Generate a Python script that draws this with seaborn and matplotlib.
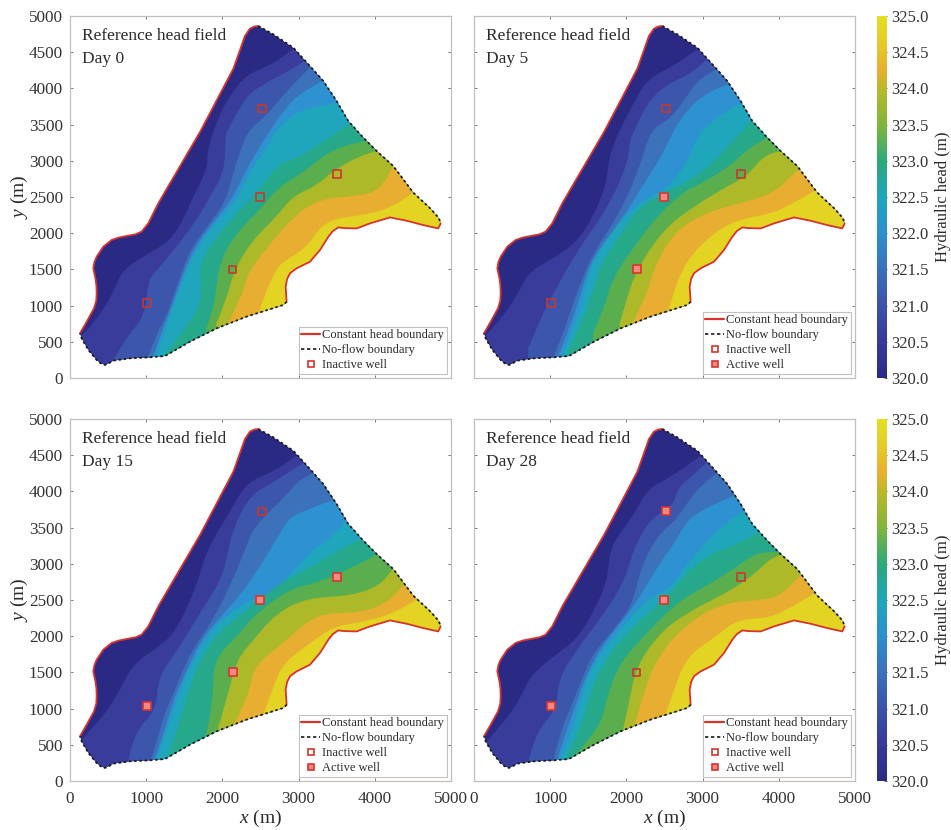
import matplotlib
matplotlib.use("Agg")
import matplotlib.pyplot as plt
import seaborn as sns
import pandas as pd
from matplotlib.cm import ScalarMappable
from matplotlib.colors import LinearSegmentedColormap, Normalize
from matplotlib.lines import Line2D
from matplotlib.patches import Polygon, PathPatch
from matplotlib.path import Path

# ---------- data (metres) ----------
const_head_nw = [(131,617),(219,778),(315,963),(345,1070),(350,1170),(347,1270),(335,1370),(306,1515),(320,1600),(350,1676),
                 (437,1814),(547,1907),(640,1940),(744,1962),(860,1985),(940,2022),(1028,2137),(1159,2413),(1708,3401),
                 (2146,4277),(2296,4724),(2361,4825),(2420,4855),(2471,4862)]
no_flow_ne = [(2471,4862),(2668,4747),(2930,4563),(3149,4309),(3324,4102),(3499,3826),(3652,3550),(3849,3320),
              (4024,3135),(4242,2928),(4505,2560),(4729,2341),(4840,2210),(4864,2135)]
const_head_se = [(4864,2135),(4833,2066),(4636,2112),(4418,2172),(4199,2218),(3936,2135),(3762,2066),(3600,2070),(3521,2080),
                 (3450,2030),(3390,1951),(3280,1767),(3149,1606),(2974,1514),(2890,1450),(2850,1370),(2830,1261),(2843,1053)]
no_flow_sw = [(2843,1053),(2800,1009),(2318,848),(1925,686),(1575,502),(1247,304),(1050,286),(787,272),(569,240),
              (510,205),(459,180),(400,205),(350,249),(241,387),(153,548),(131,617)]

well_names = ["W1", "W2", "W3", "W4", "W5"]
well_x = [1010, 2520, 2495, 3505, 2135]
well_y = [1040, 3725, 2500, 2820, 1500]
days = [0, 5, 15, 28]
active_wells = {0: [], 5: ["W3", "W5"], 15: ["W1", "W3", "W4", "W5"], 28: ["W1", "W2", "W3"]}

head_ticks = [320.0, 320.5, 321.0, 321.5, 322.0, 322.5, 323.0, 323.5, 324.0, 324.5, 325.0]
colorbar_values = [320.0, 320.5, 321.0, 321.5, 322.0, 322.5, 323.0, 323.5, 324.0, 324.25, 324.6, 325.0]
colorbar_colors = ["#2a2a85", "#37399b", "#3b52aa", "#3b70ba", "#2c8fcf", "#1fa5bb",
                   "#2ca87a", "#7fb63c", "#bab82a", "#e8ae32", "#e6c82a", "#e4e022"]
band_colors = ["#2a2a85", "#3a3c9c", "#3b56ab", "#3c72ba", "#2e92d2", "#1fa6bc",
               "#25a98a", "#5aae4e", "#aeb92a", "#e8ae32", "#e3d322"]

iso_day0 = [
 [(153,571),(350,802),(569,1170),(678,1469),(919,1653),(1312,1883),(1487,2183),(1597,2459),(1800,2870),(1810,3190),(1970,3650),(2099,3895),(2318,4194),(2624,4309),(2930,4540)],
 [(569,240),(744,571),(984,848),(1028,1354),(1137,1480),(1312,1699),(1640,2137),(1815,2459),(2040,2870),(2030,3330),(2099,3481),(2318,3895),(2536,4056),(2799,4194),(3083,4378)],
 [(1028,286),(1137,617),(1268,848),(1356,1124),(1465,1446),(1575,1768),(1837,2137),(2056,2459),(2143,2836),(2274,3250),(2361,3435),(2580,3619),(2843,3964),(3149,4286)],
 [(1090,285),(1200,620),(1290,860),(1400,1170),(1500,1470),(1630,1790),(1880,2150),(2120,2450),(2318,2882),(2580,3343),(2755,3619),(2974,3895),(3315,4102)],
 [(1128,295),(1247,617),(1312,871),(1443,1216),(1531,1492),(1684,1814),(1925,2160),(2187,2459),(2274,2652),(2405,2928),(2580,3158),(2711,3435),(3018,3711),(3520,3803)],
 [(1247,318),(1487,641),(1706,986),(1728,1308),(1706,1584),(1925,1953),(2231,2321),(2536,2652),(2755,2974),(2974,3020),(3368,3296),(3674,3504)],
 [(1793,686),(1881,940),(1925,1262),(1968,1584),(2143,1953),(2493,2321),(2755,2652),(3061,2836),(3324,3066),(3586,3204),(3892,3273)],
 [(1925,756),(2056,1078),(2143,1446),(2362,1860),(2712,2229),(2930,2514),(3236,2652),(3455,2859),(3761,3043),(4024,3135)],
 [(2078,756),(2274,1170),(2318,1399),(2493,1675),(2887,2182),(3237,2458),(3674,2504),(3980,2550),(4155,2734),(4242,2928)],
 [(2471,869),(2581,1215),(2668,1400),(2756,1583),(3105,1790),(3346,2182),(3893,2250),(4243,2366),(4505,2560)],
]
iso_day5 = [
 [(157,590),(385,843),(581,1166),(712,1442),(909,1580),(1258,1788),(1499,2087),(1739,2640),(1783,3147),(2099,3803),(2274,4125),(2624,4309),(2930,4540)],
 [(712,405),(865,797),(1040,1166),(1390,1811),(1739,2318),(2023,2963),(2045,3286),(2099,3389),(2274,3803),(2536,4056),(2799,4171),(3039,4378)],
 [(1040,267),(1171,613),(1302,1028),(1433,1396),(1564,1719),(1914,2272),(2186,2928),(2318,3435),(2580,3573),(2799,3895),(2930,4102),(3149,4240)],
 [(1100,280),(1240,640),(1370,1050),(1480,1440),(1610,1740),(1950,2200),(2186,2606),(2493,3112),(2624,3435),(2843,3757),(3105,3964),(3346,4056)],
 [(1149,290),(1302,659),(1433,1074),(1520,1488),(1652,1765),(2001,2272),(2300,2500),(2536,2606),(2799,2974),(2930,3343),(3149,3573),(3520,3803)],
 [(1215,313),(1390,705),(1543,1120),(1652,1534),(1870,1903),(2176,2364),(2500,2560),(2799,2698),(3149,2974),(3411,3297),(3630,3527)],
 [(1564,613),(1717,981),(1827,1396),(2132,1857),(2438,2272),(2788,2600),(2930,2652),(3368,2928),(3586,3158),(3849,3320)],
 [(1914,751),(2001,1074),(2132,1488),(2482,2041),(2875,2364),(3411,2698),(3586,2790),(3805,3066),(4024,3135)],
 [(2089,774),(2264,1120),(2395,1627),(2701,2087),(3138,2318),(3662,2456),(3936,2560),(4242,2859)],
 [(2548,912),(2613,1166),(2788,1627),(3138,1995),(3444,2180),(3924,2272),(4186,2410),(4449,2571)],
]
iso_day15 = [
 [(153,567),(394,843),(591,1120),(832,1627),(1182,1857),(1401,2087),(1664,2686),(1795,3193),(2099,3711),(2318,4125),(2668,4263),(2974,4494)],
 [(766,267),(832,659),(1138,981),(1160,1442),(1445,1857),(1707,2318),(2000,2800),(2080,3200),(2150,3500),(2361,3941),(2668,4125),(3083,4401)],
 [(1051,267),(1138,521),(1226,889),(1401,1304),(1576,1765),(1883,2226),(2150,2800),(2318,3250),(2427,3527),(2843,3941),(2974,4125),(3171,4240)],
 [(1100,280),(1230,620),(1340,1060),(1500,1450),(1720,1950),(2010,2300),(2230,2560),(2449,2882),(2689,3296),(2886,3642),(3061,3720),(3433,3872)],
 [(1138,290),(1270,705),(1445,1212),(1576,1580),(1883,2133),(2320,2480),(2624,2583),(2886,2836),(3149,3158),(3411,3343),(3608,3573)],
 [(1292,359),(1401,659),(1532,1166),(1707,1673),(1970,2087),(2452,2450),(2714,2700),(2974,2836),(3411,3112),(3717,3296),(3827,3320)],
 [(1795,659),(1883,1120),(1883,1673),(2233,2041),(2452,2318),(2886,2652),(3280,2744),(3761,2974),(4002,3112)],
 [(1926,659),(2058,1120),(2189,1673),(2408,1949),(2714,2318),(3108,2525),(3717,2560),(4067,2698),(4242,2928)],
 [(2145,751),(2364,1212),(2408,1580),(2802,1903),(3240,2318),(3809,2318),(4159,2456),(4373,2698)],
 [(2539,912),(2671,1304),(2802,1627),(3152,1903),(3459,2133),(3896,2203),(4247,2318),(4553,2502)],
]
iso_day28 = [
 [(166,544),(385,797),(603,1120),(734,1442),(1040,1719),(1346,1949),(1564,2318),(1761,2779),(1783,3239),(2099,3665),(2274,4033),(2580,4194),(2952,4471)],
 [(712,244),(800,659),(1084,981),(1106,1396),(1346,1811),(1652,2226),(1950,2700),(2089,3150),(2143,3297),(2318,3619),(2624,3803),(2668,4033),(2843,4194),(3061,4401)],
 [(1040,267),(1127,659),(1258,981),(1433,1442),(1564,1765),(1914,2180),(2100,2500),(2186,2928),(2405,3389),(2668,3619),(2908,4010),(3171,4240)],
 [(1090,280),(1210,680),(1340,1050),(1500,1530),(1740,1950),(2020,2300),(2186,2560),(2449,3020),(2668,3343),(2755,3527),(2930,3711),(3411,3941)],
 [(1127,290),(1302,705),(1411,1166),(1564,1627),(1914,2087),(2307,2548),(2580,2652),(2843,3066),(3236,3504),(3542,3734)],
 [(1215,313),(1433,797),(1521,1212),(1696,1627),(2001,2041),(2438,2456),(2650,2680),(2843,2928),(3149,3158),(3411,3250),(3717,3412)],
 [(1346,382),(1652,705),(1761,1212),(1914,1627),(2264,2041),(2613,2410),(2850,2580),(3061,2698),(3411,2928),(3717,3158),(4002,3158)],
 [(1958,705),(2045,1120),(2132,1580),(2438,2041),(2788,2318),(3225,2548),(3542,2744),(3805,2974),(3892,3066),(4045,3130)],
 [(2111,774),(2242,1258),(2395,1673),(2701,2087),(3225,2456),(3837,2502),(4024,2560),(4286,2836)],
 [(2504,889),(2613,1212),(2788,1719),(3181,1995),(3444,2226),(3881,2249),(4186,2410),(4440,2571)],
]
iso_by_day = {0: iso_day0, 5: iso_day5, 15: iso_day15, 28: iso_day28}

# ---------- style ----------
sns.set_theme(style="white")
plt.rcParams.update({
    "font.family": ["Liberation Serif", "DejaVu Serif"],
    "mathtext.fontset": "custom",
    "mathtext.rm": "Liberation Serif",
    "mathtext.it": "Liberation Serif:italic",
    "text.color": "#2b2b2b",
    "axes.labelcolor": "#2b2b2b",
    "xtick.color": "#777777",
    "ytick.color": "#777777",
    "xtick.labelcolor": "#333333",
    "ytick.labelcolor": "#333333",
})

FW, FH = 951, 830
span = colorbar_values[-1] - colorbar_values[0]
stops = [((v - colorbar_values[0]) / span, c) for v, c in zip(colorbar_values, sns.color_palette(colorbar_colors))]
cmap = LinearSegmentedColormap.from_list("head", stops, N=256)
norm = Normalize(320, 325)
RED = "#d8342c"
FRAME = "#c4bfba"

fig = plt.figure(figsize=(FW / 100, FH / 100), dpi=100)


def px_axes(l, t, r, b):
    return fig.add_axes([l / FW, 1 - b / FH, (r - l) / FW, (b - t) / FH])


def draw_segment(ax, pts, color, lw, ls):
    df = pd.DataFrame(pts, columns=["x", "y"])
    sns.lineplot(data=df, x="x", y="y", sort=False, estimator=None, color=color, lw=lw, ls=ls, ax=ax, zorder=15)


def band_path(line, first):
    """Region on the high-head side of one iso-head line; the line itself is rounded with quadratic curves."""
    verts = [line[0]]
    codes = [Path.MOVETO]
    for a, b in zip(line[1:-1], line[2:]):
        verts += [a, ((a[0] + b[0]) / 2, (a[1] + b[1]) / 2)]
        codes += [Path.CURVE3, Path.CURVE3]
    verts.append(line[-1])
    codes.append(Path.LINETO)
    end_x, end_y = line[-1][0] + 2000, line[-1][1] + 1500
    start_x = line[0][0] - (300 if first else 0)
    for p in [(end_x, end_y), (8000, end_y), (8000, -1500), (start_x, -1500), line[0]]:
        verts.append(p)
        codes.append(Path.LINETO)
    return Path(verts, codes)


def draw_panel(ax, day, left_lab, bottom_lab):
    outline = const_head_nw + no_flow_ne[1:] + const_head_se[1:] + no_flow_sw[1:-1]
    clip = Polygon(outline, closed=True, transform=ax.transData, fc=band_colors[0], ec="none", zorder=1)
    ax.add_patch(clip)
    for k, line in enumerate(iso_by_day[day]):
        patch = PathPatch(band_path(line, k == 0), fc=band_colors[k + 1], ec=band_colors[k + 1], lw=0.3, zorder=2 + k)
        ax.add_patch(patch)
        patch.set_clip_path(clip)
    draw_segment(ax, const_head_nw, RED, 1.3, "-")
    draw_segment(ax, const_head_se, RED, 1.3, "-")
    draw_segment(ax, no_flow_ne, "#1a1a1a", 1.3, (0, (1.4, 1.5)))
    draw_segment(ax, no_flow_sw, "#1a1a1a", 1.3, (0, (1.4, 1.5)))

    wells = pd.DataFrame({"name": well_names, "x": well_x, "y": well_y})
    wells["active"] = wells["name"].isin(active_wells[day])
    sns.scatterplot(data=wells[~wells["active"]], x="x", y="y", marker="s", s=30, facecolor="none",
                    edgecolor="#c8382e", linewidth=1.2, ax=ax, zorder=20, legend=False)
    sns.scatterplot(data=wells[wells["active"]], x="x", y="y", marker="s", s=30, facecolor="#ee8a82",
                    edgecolor="#d8342c", linewidth=1.2, ax=ax, zorder=20, legend=False)

    ax.set_xlim(0, 5000)
    ax.set_ylim(0, 5000)
    ax.set_xticks([0, 1000, 2000, 3000, 4000, 5000])
    ax.set_yticks(range(0, 5001, 500))
    ax.tick_params(direction="in", length=2.5, width=0.7, top=True, right=True, left=True, bottom=True,
                   labelsize=12.3, labelleft=left_lab, labelbottom=bottom_lab)
    ax.tick_params(axis="x", pad=7)
    ax.tick_params(axis="y", pad=5)
    ax.set_xlabel(r"$\mathit{x}$ (m)" if bottom_lab else "", fontsize=14, labelpad=1)
    ax.set_ylabel(r"$\mathit{y}$ (m)" if left_lab else "", fontsize=14, labelpad=-1)
    for s in ax.spines.values():
        s.set_color(FRAME)
        s.set_linewidth(0.9)
    ax.text(0.031, 0.944, "Reference head field", transform=ax.transAxes, fontsize=12.5, va="center", zorder=25)
    ax.text(0.031, 0.882, f"Day {day}", transform=ax.transAxes, fontsize=12.5, va="center", zorder=25)

    handles = [Line2D([], [], color=RED, lw=1.6, label="Constant head boundary"),
               Line2D([], [], color="#1a1a1a", lw=1.2, ls=(0, (2, 1.6)), label="No-flow boundary"),
               Line2D([], [], ls="", marker="s", ms=5, mfc="white", mec=RED, mew=1.2, label="Inactive well")]
    if day != 0:
        handles.append(Line2D([], [], ls="", marker="s", ms=5, mfc="#ee8a82", mec=RED, mew=1.2, label="Active well"))
    leg = ax.legend(handles=handles, loc="lower left", bbox_to_anchor=(0.6, 0.012), fontsize=9.0, frameon=True,
                    fancybox=False, framealpha=1, edgecolor="#c4c0bb", borderpad=0.2, labelspacing=0.24,
                    handlelength=1.55, handletextpad=0.15, borderaxespad=0, labelcolor="#2b2b2b")
    leg.set_zorder(30)
    leg.get_frame().set_linewidth(0.8)


layout = [(0, 70, 16, 451, 378, True, False), (5, 474, 16, 855, 378, False, False),
          (15, 70, 419, 451, 781, True, True), (28, 474, 419, 855, 781, False, True)]
for day, l, t, r, b, ll, bl in layout:
    ax = px_axes(l, t, r, b)
    draw_panel(ax, day, ll, bl)

for t, b in [(16, 378), (419, 781)]:
    cax = px_axes(877, t, 887, b)
    cb = fig.colorbar(ScalarMappable(norm=norm, cmap=cmap), cax=cax)
    cb.set_ticks(head_ticks)
    cb.set_ticklabels([f"{v:.1f}" for v in head_ticks])
    cb.ax.tick_params(labelsize=12, length=2, width=0.6, direction="in", pad=3, color="#444444")
    cb.set_label("Hydraulic head (m)", fontsize=12, va="center")
    cb.ax.yaxis.set_label_coords(6.6, 0.5)
    cb.outline.set_visible(False)

fig.savefig("out.png", dpi=100, facecolor="white")
